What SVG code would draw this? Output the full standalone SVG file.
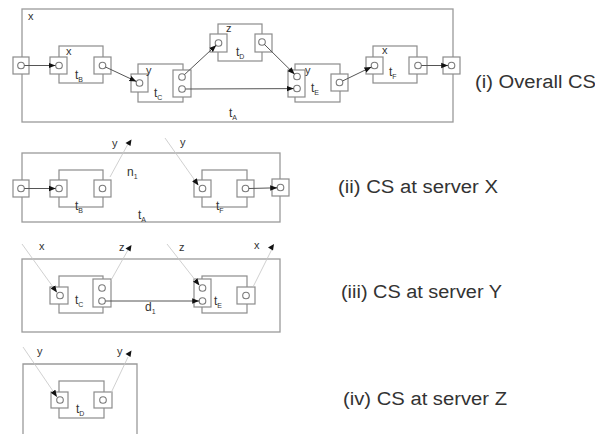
<svg xmlns="http://www.w3.org/2000/svg" width="595" height="434" viewBox="0 0 595 434">
<style>
.box{fill:none;stroke:#9a9a9a;stroke-width:1.3}
.body{fill:none;stroke:#8c8c8c;stroke-width:1.2}
.port{fill:#fff;stroke:#8c8c8c;stroke-width:1.2}
.circ{fill:#fff;stroke:#7a7a7a;stroke-width:1.1}
.arr{fill:none;stroke:#555;stroke-width:1;marker-end:url(#ah)}
.lnk{fill:none;stroke:#c4c4c4;stroke-width:0.8}
.lnka{fill:none;stroke:#c4c4c4;stroke-width:0.8;marker-end:url(#ah)}
.tri{fill:#111}
.lbl{font-family:"Liberation Sans",Arial,sans-serif;font-size:11px;fill:#333}
.tn{font-family:"Liberation Sans",Arial,sans-serif;font-size:12px;fill:#333}
.sub{font-size:7px}
.cap{font-family:"Liberation Sans",Arial,sans-serif;font-size:18px;fill:#333}
</style>
<defs>
<marker id="ah" viewBox="0 0 10 10" refX="10" refY="5" markerWidth="7" markerHeight="7" markerUnits="userSpaceOnUse" orient="auto">
<path d="M0,1 L10,5 L0,9 z" fill="#111"/>
</marker>
</defs>

<!-- ===== (i) Overall CS ===== -->
<g id="cs-overall">
<rect class="box" x="22" y="9" width="431" height="113"/>
<text class="lbl" x="28" y="20">x</text>
<text class="tn" x="229" y="117">t<tspan class="sub" dy="3">A</tspan></text>
<text class="cap" x="475" y="88" textLength="121" lengthAdjust="spacingAndGlyphs">(i) Overall CS</text>
</g>
<g id="i-in">
<rect class="port" x="13" y="57" width="16" height="17"/>
<circle class="circ" cx="21" cy="65.5" r="3.3"/>
</g>
<g id="i-out">
<rect class="port" x="443" y="57" width="17" height="17"/>
<circle class="circ" cx="451.5" cy="65.5" r="3.3"/>
</g>
<g id="i-tB">
<rect class="body" x="59" y="46" width="44" height="37"/>
<rect class="port" x="50" y="57" width="17" height="17"/>
<circle class="circ" cx="59" cy="65.5" r="3.3"/>
<rect class="port" x="94" y="57" width="17" height="17"/>
<circle class="circ" cx="102.5" cy="65.5" r="3.3"/>
<text class="lbl" x="66" y="55">x</text>
<text class="tn" x="75" y="79">t<tspan class="sub" dy="3">B</tspan></text>
</g>
<g id="i-tC">
<rect class="body" x="138" y="64" width="45" height="38"/>
<rect class="port" x="131" y="74" width="17" height="18"/>
<circle class="circ" cx="139.5" cy="83" r="3.3"/>
<rect class="port" x="173" y="70" width="18" height="27"/>
<circle class="circ" cx="182" cy="77" r="3.3"/>
<circle class="circ" cx="182" cy="89" r="3.3"/>
<text class="lbl" x="146" y="74">y</text>
<text class="tn" x="154" y="97">t<tspan class="sub" dy="3">C</tspan></text>
</g>
<g id="i-tD">
<rect class="body" x="218" y="24" width="44" height="37"/>
<rect class="port" x="210" y="34" width="17" height="18"/>
<circle class="circ" cx="218.5" cy="43" r="3.3"/>
<rect class="port" x="255" y="34" width="17" height="18"/>
<circle class="circ" cx="262" cy="42" r="3.3"/>
<text class="lbl" x="226" y="32">z</text>
<text class="tn" x="236" y="56">t<tspan class="sub" dy="3">D</tspan></text>
</g>
<g id="i-tE">
<rect class="body" x="295" y="64" width="45" height="38"/>
<rect class="port" x="288" y="70" width="17" height="27"/>
<circle class="circ" cx="297" cy="76.5" r="3.3"/>
<circle class="circ" cx="297" cy="88.5" r="3.3"/>
<rect class="port" x="331" y="74" width="17" height="17"/>
<circle class="circ" cx="339.5" cy="82.5" r="3.3"/>
<text class="lbl" x="305" y="74">y</text>
<text class="tn" x="311" y="92">t<tspan class="sub" dy="3">E</tspan></text>
</g>
<g id="i-tF">
<rect class="body" x="373" y="46" width="44" height="37"/>
<rect class="port" x="366" y="57" width="17" height="17"/>
<circle class="circ" cx="374.5" cy="65.5" r="3.3"/>
<rect class="port" x="409" y="57" width="18" height="17"/>
<circle class="circ" cx="418" cy="65.5" r="3.3"/>
<text class="lbl" x="382" y="54">x</text>
<text class="tn" x="389" y="76">t<tspan class="sub" dy="3">F</tspan></text>
</g>

<!-- ===== (ii) CS at server X ===== -->
<g id="cs-x">
<rect class="box" x="22" y="153" width="258" height="69"/>
<text class="tn" x="138" y="219">t<tspan class="sub" dy="3">A</tspan></text>
<text class="tn" x="127" y="176">n<tspan class="sub" dy="3">1</tspan></text>
<text class="lbl" x="112" y="147">y</text>
<text class="lbl" x="180" y="146">y</text>
<text class="cap" x="338" y="193" textLength="160" lengthAdjust="spacingAndGlyphs">(ii) CS at server X</text>
</g>
<g id="ii-in">
<rect class="port" x="13" y="180" width="16" height="17"/>
<circle class="circ" cx="21" cy="188.5" r="3.3"/>
</g>
<g id="ii-out">
<rect class="port" x="272" y="179" width="17" height="17"/>
<circle class="circ" cx="280.5" cy="187.5" r="3.3"/>
</g>
<g id="ii-tB">
<rect class="body" x="59" y="170" width="44" height="37"/>
<rect class="port" x="50" y="180" width="17" height="17"/>
<circle class="circ" cx="59" cy="188.5" r="3.3"/>
<rect class="port" x="94" y="180" width="17" height="17"/>
<circle class="circ" cx="102.5" cy="188.5" r="3.3"/>
<text class="tn" x="75" y="210">t<tspan class="sub" dy="3">B</tspan></text>
</g>
<g id="ii-tF">
<rect class="body" x="202" y="170" width="45" height="37"/>
<rect class="port" x="194" y="180" width="17" height="17"/>
<circle class="circ" cx="202.5" cy="188.5" r="3.3"/>
<rect class="port" x="237" y="180" width="17" height="17"/>
<circle class="circ" cx="245.5" cy="188.5" r="3.3"/>
<text class="tn" x="216" y="210">t<tspan class="sub" dy="3">F</tspan></text>
</g>

<!-- ===== (iii) CS at server Y ===== -->
<g id="cs-y">
<rect class="box" x="22" y="259" width="258" height="73"/>
<text class="tn" x="145" y="311">d<tspan class="sub" dy="3">1</tspan></text>
<text class="lbl" x="39" y="250">x</text>
<text class="lbl" x="119" y="251">z</text>
<text class="lbl" x="179" y="251">z</text>
<text class="lbl" x="254" y="249">x</text>
<text class="cap" x="341" y="298" textLength="161" lengthAdjust="spacingAndGlyphs">(iii) CS at server Y</text>
</g>
<g id="iii-tC">
<rect class="body" x="59" y="276" width="44" height="37"/>
<rect class="port" x="50" y="287" width="18" height="17"/>
<circle class="circ" cx="60" cy="295.5" r="3.3"/>
<rect class="port" x="93" y="279" width="18" height="28"/>
<circle class="circ" cx="102" cy="288" r="3.3"/>
<circle class="circ" cx="102" cy="301" r="3.3"/>
<text class="tn" x="75" y="304">t<tspan class="sub" dy="3">C</tspan></text>
</g>
<g id="iii-tE">
<rect class="body" x="202" y="276" width="45" height="37"/>
<rect class="port" x="194" y="279" width="17" height="28"/>
<circle class="circ" cx="202.5" cy="288" r="3.3"/>
<circle class="circ" cx="202.5" cy="301" r="3.3"/>
<rect class="port" x="237" y="287" width="18" height="17"/>
<circle class="circ" cx="246" cy="295.5" r="3.3"/>
<text class="tn" x="214" y="305">t<tspan class="sub" dy="3">E</tspan></text>
</g>

<!-- ===== (iv) CS at server Z ===== -->
<g id="cs-z">
<path class="box" d="M23,436 V364 H137 V436"/>
<text class="lbl" x="37" y="355">y</text>
<text class="lbl" x="117" y="355">y</text>
<text class="cap" x="343" y="405" textLength="164" lengthAdjust="spacingAndGlyphs">(iv) CS at server Z</text>
</g>
<g id="iv-tD">
<rect class="body" x="59" y="381" width="45" height="37"/>
<rect class="port" x="51" y="392" width="17" height="16"/>
<circle class="circ" cx="60" cy="400" r="3.3"/>
<rect class="port" x="94" y="392" width="18" height="16"/>
<circle class="circ" cx="103" cy="400" r="3.3"/>
<text class="tn" x="76" y="413">t<tspan class="sub" dy="3">D</tspan></text>
</g>

<!-- ===== connectors ===== -->
<g id="connectors">
<!-- (i) -->
<line class="arr" x1="24.3" y1="65.5" x2="55.5" y2="65.5"/>
<line class="arr" x1="105.5" y1="67" x2="136.4" y2="81.5"/>
<line class="arr" x1="184.4" y1="74.7" x2="216.2" y2="45.2"/>
<line class="arr" x1="264.4" y1="44.4" x2="294.6" y2="74.2"/>
<line class="arr" x1="185.3" y1="89" x2="293.7" y2="88.6"/>
<line class="arr" x1="342.5" y1="81" x2="371.4" y2="67"/>
<line class="arr" x1="421.3" y1="65.5" x2="448.2" y2="65.5"/>
<!-- (ii) -->
<line class="arr" x1="24.3" y1="188.5" x2="55.7" y2="188.5"/>
<line class="lnk" x1="110" y1="177" x2="128" y2="144"/>
<polygon class="tri" points="125.5,143 131.5,139.5 130.5,146"/>
<line class="lnka" x1="165" y1="138" x2="198.5" y2="185.5"/>
<line class="arr" x1="248.8" y1="188.5" x2="277.2" y2="187.8"/>
<!-- (iii) -->
<line class="arr" x1="105.3" y1="301" x2="199.2" y2="301"/>
<line class="lnka" x1="22" y1="244" x2="57" y2="292.5"/>
<line class="lnk" x1="110" y1="282" x2="128" y2="250"/>
<polygon class="tri" points="125.5,248.5 131.5,245 130.5,251.5"/>
<line class="lnka" x1="167" y1="244" x2="199.5" y2="285.5"/>
<line class="lnk" x1="253" y1="287" x2="272" y2="249"/>
<polygon class="tri" points="268,247.5 274,244 273,250.5"/>
<!-- (iv) -->
<line class="lnka" x1="23" y1="347" x2="57" y2="397"/>
<line class="lnk" x1="111" y1="393" x2="128" y2="357"/>
<polygon class="tri" points="125.5,354 131.5,350.5 130.5,357"/>
</g>
</svg>
